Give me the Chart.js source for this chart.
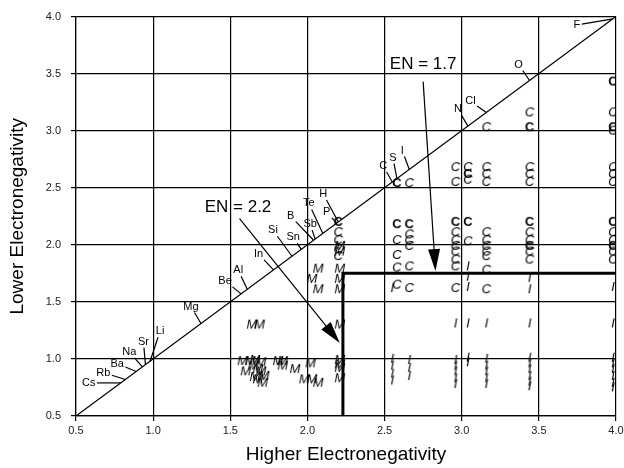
<!DOCTYPE html>
<html>
<head>
<meta charset="utf-8">
<script src="https://cdn.jsdelivr.net/npm/chart.js@4/dist/chart.umd.min.js"></script>
<style>
html, body { margin: 0; padding: 0; background: #fff; }
</style>
</head>
<body>
<canvas id="chart" width="624" height="468"></canvas>
<script>
"use strict";

// elements labelled along the diagonal (Pauling electronegativity)
var elementNames = ['Cs','Rb','Ba','Na','Sr','Li','Mg','Be','Al','In','Si','Sn','B','Sb','Te','P','H','C','S','I','N','Cl','O','F'];
var elementEN = [0.79,0.82,0.89,0.93,0.95,0.98,1.31,1.57,1.61,1.78,1.90,1.96,2.04,2.05,2.10,2.19,2.20,2.55,2.58,2.66,3.04,3.16,3.44,3.98];

// metallic (M) binaries
var metalX = [1.64,1.69,2.21,
    1.58,1.63,1.66,1.70,1.60,1.68,1.68,1.71,1.65,1.70,1.72,1.66,
    1.81,1.84,1.84,1.92,2.02,1.98,2.03,2.07,
    2.21,2.21,2.21,2.21,
    2.21,2.21,2.21,2.21,2.21,2.07,2.03,2.07];
var metalY = [1.31,1.31,1.31,
    0.99,0.99,1.00,0.98,0.90,0.92,0.83,0.80,0.95,0.90,0.86,0.85,
    0.99,0.99,0.95,0.92,0.97,0.83,0.83,0.80,
    1.00,0.96,0.93,0.84,
    1.80,1.71,1.62,1.95,2.00,1.80,1.71,1.62];

// ionic (I) binaries
var ionicX = [2.55,2.55,2.55,2.55,2.55,
    2.66,2.66,2.66,
    2.96,2.96,2.96,2.96,2.96,2.96,
    3.04,3.04,3.04,3.04,3.04,3.04,
    3.16,3.16,3.16,3.16,3.16,3.16,
    3.44,3.44,3.44,3.44,3.44,3.44,3.44,3.44,3.44,
    3.98,3.98,3.98,3.98,3.98,3.98,3.98,3.98];
var ionicY = [1.63,1.01,0.95,0.88,0.82,
    1.00,0.93,0.86,
    1.32,1.00,0.95,0.90,0.84,0.79,
    1.82,1.73,1.64,1.32,1.02,0.98,
    1.32,1.01,0.95,0.90,0.84,0.79,
    1.72,1.62,1.32,1.02,0.97,0.92,0.86,0.81,0.77,
    1.64,1.32,1.02,0.97,0.92,0.86,0.80,0.76];

// covalent (C) binaries
var covalentX = [2.20,2.20,2.20,2.20,
    2.58,2.58,2.58,2.58,
    2.66,2.66,2.66,2.66,2.66,2.66,
    2.96,2.96,2.96,2.96,2.96,2.96,2.96,2.96,2.96,
    3.04,3.04,3.04,
    3.16,3.16,3.16,3.16,3.16,3.16,3.16,3.16,3.16,3.16,3.16,
    3.44,3.44,3.44,3.44,3.44,3.44,3.44,3.44,
    3.98,3.98,3.98,3.98,3.98,3.98,3.98,3.98,3.98];
var covalentY = [2.12,2.05,1.97,1.91,
    2.05,1.92,1.81,1.66,
    2.55,2.10,2.05,2.00,1.82,1.63,
    2.69,2.56,2.12,2.05,2.00,1.95,1.88,1.82,1.63,
    2.69,2.58,2.04,
    3.04,2.69,2.63,2.56,2.12,2.05,2.00,1.95,1.91,1.79,1.62,
    3.17,2.69,2.63,2.56,2.12,2.05,1.95,1.88,
    3.17,3.01,2.69,2.63,2.56,2.12,2.05,1.95,1.88];
var covalentBoldX = [2.20,2.58,2.58,2.66,2.96,3.04,3.04,3.44,3.44,3.44,3.98,3.98,3.98,3.98];
var covalentBoldY = [2.21,2.55,2.19,2.19,2.21,2.63,2.21,3.04,2.21,2.00,3.44,3.04,2.21,2.00];

// boundary and annotations
var boundaryX = [2.23,2.23,4.0];
var boundaryY = [0.5,1.75,1.75];
var noteTexts = ['EN = 2.2','EN = 1.7'];
var noteX = [1.55,2.75];
var noteY = [2.325,3.58];
var arrowFromX = [1.56,2.75];
var arrowFromY = [2.23,3.43];
var arrowToX = [2.21,2.83];
var arrowToY = [1.14,1.77];

var xTitle = 'Higher Electronegativity';
var yTitle = 'Lower Electronegativity';

// label offsets (px) from the diagonal point, same order as elementNames
var labelOffsets = [[-32,0],[-22,-7],[-19,-8],[-13,-15],[-2,-23],[10,-30],[-10,-17],[-16,-13],[-9,-19],
    [-15,-16],[-19,-26],[-8,-12],[-23,-24],[-5,-15],[-14,-30],[-10,-11],[-15,-28],[-9,-16],[-4,-21],
    [-7,-19],[-10,-17],[-16,-11],[-11,-16],[-36,6]];

var FONT = '"Liberation Sans", Arial, sans-serif';

function zip(xs, ys) {
    var out = [];
    for (var i = 0; i < xs.length; i++) out.push({x: xs[i], y: ys[i]});
    return out;
}

function letterCanvas(ch, bold) {
    var c = document.createElement('canvas');
    c.width = 16; c.height = 16;
    var g = c.getContext('2d');
    g.fillStyle = '#000';
    g.font = (bold ? 'bold ' : 'italic ') + '13px ' + FONT;
    g.textAlign = 'center';
    g.textBaseline = 'middle';
    g.fillText(ch, 8, 9);
    return c;
}

var annotations = {
    id: 'annotations',
    afterDatasetsDraw: function (chart) {
        var ctx = chart.ctx;
        var xs = chart.scales.x, ys = chart.scales.y;
        ctx.save();
        ctx.strokeStyle = '#000';
        ctx.fillStyle = '#000';
        ctx.lineWidth = 1.2;

        // element labels with leader lines
        ctx.font = '11px ' + FONT;
        ctx.textAlign = 'center';
        ctx.textBaseline = 'middle';
        for (var i = 0; i < elementNames.length; i++) {
            var px = xs.getPixelForValue(elementEN[i]);
            var py = ys.getPixelForValue(elementEN[i]);
            var lx = px + labelOffsets[i][0];
            var ly = py + labelOffsets[i][1];
            ctx.fillText(elementNames[i], lx, ly);
            var w = ctx.measureText(elementNames[i]).width / 2 + 1.5;
            var h = 6;
            var dx = px - lx, dy = py - ly;
            var t = Math.min(dx !== 0 ? w / Math.abs(dx) : 99, dy !== 0 ? h / Math.abs(dy) : 99);
            ctx.beginPath();
            ctx.moveTo(lx + dx * t, ly + dy * t);
            ctx.lineTo(px, py);
            ctx.stroke();
        }

        // EN notes with arrows
        ctx.font = '17px ' + FONT;
        for (var k = 0; k < noteTexts.length; k++) {
            ctx.fillText(noteTexts[k], xs.getPixelForValue(noteX[k]), ys.getPixelForValue(noteY[k]));
            var x0 = xs.getPixelForValue(arrowFromX[k]), y0 = ys.getPixelForValue(arrowFromY[k]);
            var x1 = xs.getPixelForValue(arrowToX[k]), y1 = ys.getPixelForValue(arrowToY[k]);
            var ang = Math.atan2(y1 - y0, x1 - x0);
            var len = 22, half = 6;
            var bx = x1 - Math.cos(ang) * len, by = y1 - Math.sin(ang) * len;
            ctx.beginPath();
            ctx.moveTo(x0, y0);
            ctx.lineTo(bx, by);
            ctx.stroke();
            ctx.beginPath();
            ctx.moveTo(x1, y1);
            ctx.lineTo(bx + Math.sin(ang) * half, by - Math.cos(ang) * half);
            ctx.lineTo(bx - Math.sin(ang) * half, by + Math.cos(ang) * half);
            ctx.closePath();
            ctx.fill();
        }
        ctx.restore();
    }
};

var markerM = letterCanvas('M', false);
var markerI = letterCanvas('I', false);
var markerC = letterCanvas('C', false);
var markerCB = letterCanvas('C', true);

var data = {
    datasets: [
        {
            type: 'line',
            data: zip([0.5, 4.0], [0.5, 4.0]),
            borderColor: '#000',
            borderWidth: 1.2,
            pointRadius: 0,
            fill: false
        },
        {
            type: 'line',
            data: zip(boundaryX, boundaryY),
            borderColor: '#000',
            borderWidth: 3,
            pointRadius: 0,
            fill: false
        },
        { type: 'scatter', data: zip(metalX, metalY), pointStyle: markerM },
        { type: 'scatter', data: zip(ionicX, ionicY), pointStyle: markerI },
        { type: 'scatter', data: zip(covalentX, covalentY), pointStyle: markerC },
        { type: 'scatter', data: zip(covalentBoldX, covalentBoldY), pointStyle: markerCB }
    ]
};

var config = {
    type: 'scatter',
    data: data,
    options: {
        responsive: false,
        animation: false,
        devicePixelRatio: 1,
        layout: { padding: { top: 9, right: 8, left: 0, bottom: 0 } },
        plugins: {
            legend: { display: false },
            tooltip: { enabled: false }
        },
        scales: {
            x: {
                type: 'linear',
                min: 0.5,
                max: 4.0,
                afterFit: function (scale) {
                    scale.height = 52;
                    scale.paddingRight = 0;
                    scale.paddingLeft = 0;
                },
                ticks: {
                    stepSize: 0.5,
                    padding: 3,
                    color: '#222',
                    font: { family: FONT, size: 11 },
                    callback: function (v) { return v.toFixed(1); }
                },
                grid: { color: '#000', lineWidth: 1.2, tickLength: 5 },
                border: { color: '#000', width: 1.2 },
                title: {
                    display: true,
                    text: xTitle,
                    color: '#000',
                    font: { family: FONT, size: 19 },
                    padding: { top: 0, bottom: 2 }
                }
            },
            y: {
                type: 'linear',
                min: 0.5,
                max: 4.0,
                afterFit: function (scale) { scale.width = 76; },
                ticks: {
                    stepSize: 0.5,
                    padding: 10,
                    color: '#222',
                    font: { family: FONT, size: 11 },
                    callback: function (v) { return v.toFixed(1); }
                },
                grid: { color: '#000', lineWidth: 1.2, tickLength: 5 },
                border: { color: '#000', width: 1.2 },
                title: {
                    display: true,
                    text: yTitle,
                    color: '#000',
                    font: { family: FONT, size: 19 },
                    padding: { top: 6, bottom: 0 }
                }
            }
        }
    },
    plugins: [annotations]
};

var chart = new Chart(document.getElementById('chart'), config);
</script>
</body>
</html>
